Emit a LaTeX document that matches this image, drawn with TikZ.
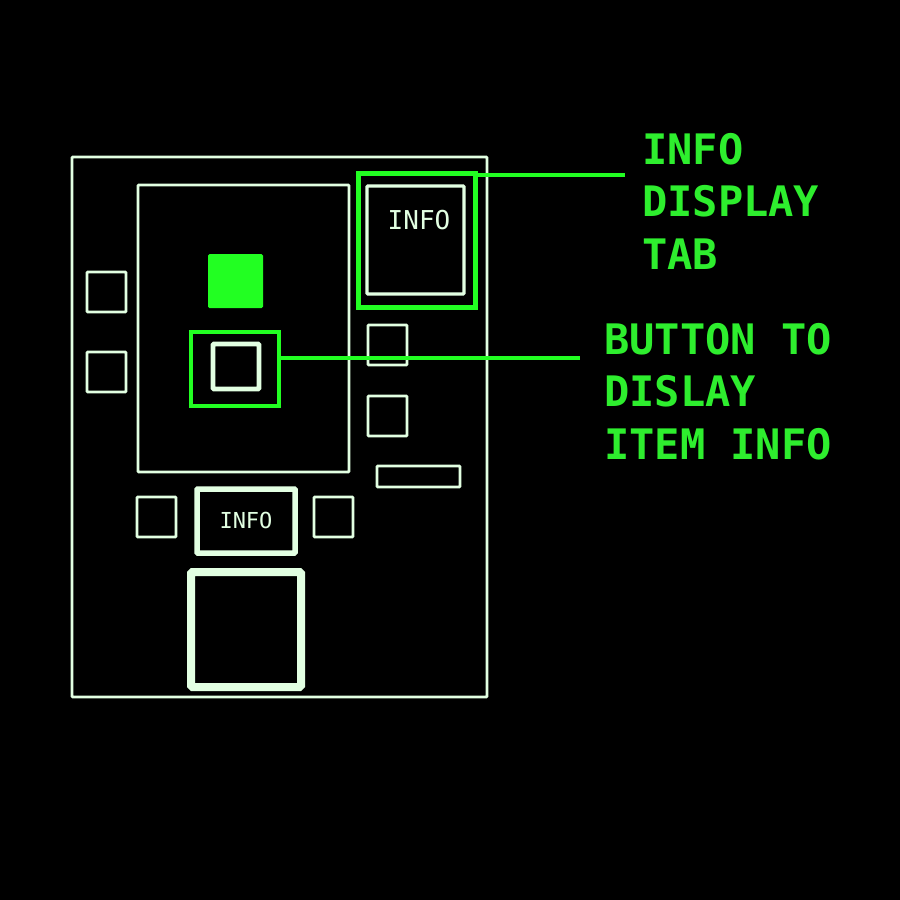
\documentclass[tikz,border=0pt]{standalone}
\usepackage{fontspec}
\newfontfamily\monofont{DejaVu Sans Mono}
\definecolor{pale}{HTML}{E2FFE2}
\definecolor{gr}{HTML}{22FF22}
\definecolor{grt}{HTML}{2EEE2E}
\begin{document}
\begin{tikzpicture}[x=1pt,y=-1pt,
  wbox/.style={draw=pale,line width=2.8pt,rounded corners=0.8pt},
  gbox/.style={draw=gr,line width=4pt},
  gline/.style={draw=gr,line width=3.2pt},
  lab/.style={text=grt,font=\monofont\bfseries\fontsize{42}{52.5}\selectfont,align=left,anchor=north west,inner sep=0pt},
  info/.style={text=pale,inner sep=0pt}]
\fill[black] (0,0) rectangle (900,900);
\useasboundingbox (0,0) rectangle (900,900);
% frame
\draw[wbox] (72,157) rectangle (487,697);
\draw[wbox] (138,185) rectangle (349,472);
% left squares
\draw[wbox] (87,272) rectangle (126,312);
\draw[wbox] (87,352) rectangle (126,392);
% green filled square
\fill[gr,rounded corners=1.5pt] (208,254) rectangle (263,308);
% button
\node[gbox,minimum width=88pt,minimum height=74pt,inner sep=0pt] (btn) at (234.5,368.5) {};
\draw[wbox,line width=4.6pt] (213,344) rectangle (259,389);
% info tab
\node[gbox,line width=4.2pt,minimum width=117pt,minimum height=134pt,inner sep=0pt] (tab) at (417,240.5) {};
\draw[wbox,line width=3.2pt] (367,186) rectangle (464,294);
\node[info,font=\monofont\fontsize{26}{26}\selectfont,anchor=base] (tabtxt) at (419,229) {INFO};
% right column
\draw[wbox] (368,325) rectangle (407,365);
\draw[wbox] (368,396) rectangle (407,436);
\draw[wbox] (377,466) rectangle (460,487);
% bottom row
\draw[wbox] (137,497) rectangle (176,537);
\draw[wbox] (314,497) rectangle (353,537);
\draw[wbox,line width=5.5pt] (197,489) rectangle (295,553);
\node[info,font=\monofont\fontsize{22}{22}\selectfont,anchor=base] (btxt) at (246,528) {INFO};
\draw[wbox,line width=8pt,rounded corners=1.5pt] (191,572) rectangle (301,687);
% labels
\node[lab] (lab1) at (642,133) {INFO\\DISPLAY\\TAB};
\node[lab] (lab2) at (604,323) {BUTTON TO\\DISLAY\\ITEM INFO};
% connectors
\coordinate (e1) at (625,175);
\coordinate (e2) at (580,358);
\draw[gline] (tab.north east |- e1) -- (e1);
\draw[gline] (btn.east |- e2) -- (e2);
\end{tikzpicture}
\end{document}
